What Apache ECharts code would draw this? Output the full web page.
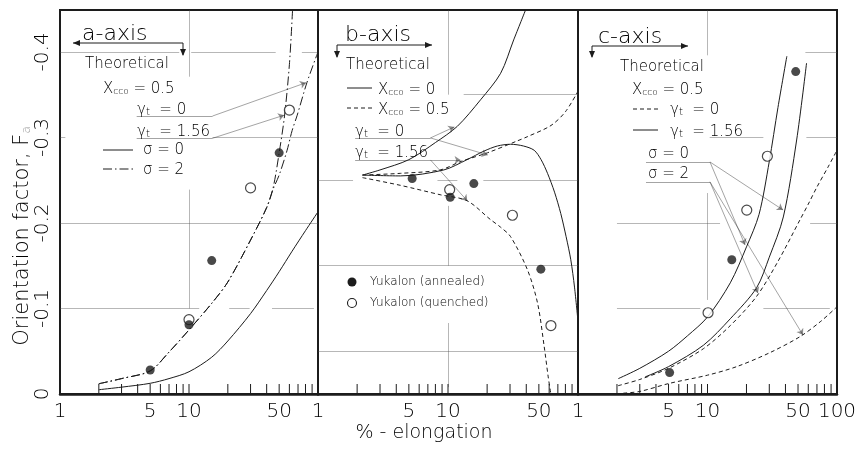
<!DOCTYPE html>
<html>
<head>
<meta charset="utf-8">
<script src="https://cdn.jsdelivr.net/npm/echarts@6/dist/echarts.min.js"></script>
<style>
html,body{margin:0;padding:0;background:#fff}
#chart{width:866px;height:449px}
</style>
</head>
<body>
<div id="chart"></div>
<script>
// ---- axis values ----------------------------------------------------------
const labelsA = [1, 5, 10, 50];
const labelsB = [1, 5, 10, 50];
const labelsC = [1, 5, 10, 50, 100];
const smallTicks = [2, 3, 4, 5, 6, 7, 8, 9, 10, 20, 30, 40, 50, 60, 70, 80, 90];
const yTicks = [0, -0.1, -0.2, -0.3, -0.4];

// ---- a-axis panel: theory (Xcco = 0.5) and Yukalon measurements ----------
const aSigma0 = [[2,-0.005],[3,-0.008],[5,-0.0125],[7,-0.018],[10,-0.026],[15,-0.043],[20,-0.062],[30,-0.094],[40,-0.121],[50,-0.143],[63,-0.167],[80,-0.191],[100,-0.213]];
const aSigma2Gamma156 = [[2,-0.012],[3,-0.018],[5,-0.027],[7,-0.049],[10,-0.075],[15,-0.106],[20,-0.131],[30,-0.18],[40,-0.218],[45,-0.242],[50,-0.282],[55,-0.325],[60,-0.385],[63.5,-0.449]];
const aSigma2Gamma0 = [[2,-0.012],[3,-0.018],[5,-0.027],[7,-0.049],[10,-0.075],[15,-0.106],[20,-0.131],[30,-0.18],[40,-0.218],[45,-0.24],[50,-0.256],[57.6,-0.285],[63,-0.308],[69,-0.326],[82,-0.364],[100,-0.40]];
const aAnnealed = [[5,-0.028],[10,-0.081],[15,-0.156],[50,-0.282]];
const aQuenched = [[10,-0.087],[30,-0.241],[60,-0.332]];

// ---- b-axis panel ----------------------------------------------------------
const bX0Gamma0 = [[2.2,-0.256],[3,-0.262],[5,-0.274],[8,-0.294],[11.8,-0.313],[17.8,-0.344],[25.4,-0.375],[32,-0.414],[39.5,-0.449]];
const bX05Gamma0 = [[2.2,-0.256],[4.3,-0.258],[8.7,-0.262],[12.6,-0.272],[20.1,-0.282],[34.2,-0.296],[41,-0.301],[62,-0.314],[80,-0.33],[100,-0.354]];
const bX0Gamma156 = [[2.2,-0.256],[4.3,-0.255],[9.3,-0.262],[14,-0.274],[18.9,-0.284],[24,-0.29],[30.3,-0.292],[38,-0.29],[46,-0.285],[52,-0.274],[58.3,-0.258],[66,-0.236],[73.7,-0.211],[81,-0.184],[88,-0.157],[94,-0.125],[100,-0.085]];
const bX05Gamma156 = [[2.2,-0.253],[4.3,-0.244],[8.7,-0.233],[14,-0.226],[21.2,-0.204],[25.4,-0.195],[30.3,-0.184],[40.9,-0.145],[48.9,-0.106],[55,-0.055],[59,-0.02],[61.8,0]];
const bAnnealed = [[5.3,-0.252],[10.4,-0.230],[15.8,-0.246],[51.8,-0.146]];
const bQuenched = [[10.3,-0.239],[31.3,-0.209],[61.9,-0.080]];

// ---- c-axis panel ----------------------------------------------------------
const cSolidLeft = [[2.05,-0.018],[3,-0.03],[5,-0.05],[7,-0.068],[10,-0.09],[15,-0.13],[20,-0.172],[25,-0.21],[30,-0.272],[35,-0.335],[41,-0.395]];
const cSolidRight = [[3.3,-0.02],[5,-0.032],[9.3,-0.057],[15,-0.088],[23.9,-0.124],[30,-0.16],[38.5,-0.207],[48.8,-0.297],[58.2,-0.387]];
const cDashedUpper = [[2.04,-0.0097],[3,-0.017],[5,-0.03],[9.3,-0.053],[15,-0.08],[23.9,-0.114],[35,-0.155],[51.7,-0.2035],[60,-0.222],[70,-0.242],[85,-0.265],[100,-0.285]];
const cDashedLower = [[2.24,-0.001],[3,-0.003],[5.1,-0.0125],[10,-0.022],[16.8,-0.032],[30,-0.048],[51.7,-0.067],[75,-0.085],[100,-0.102]];
const cAnnealed = [[5.1,-0.025],[15.4,-0.157],[48,-0.377]];
const cQuenched = [[10.1,-0.095],[20.1,-0.215],[29,-0.278]];

// ---- ruled grid segments (broken where lettering sits) --------------------
const ruleA = [[[1,-0.4],[8.4,-0.4]],[[10.4,-0.4],[47,-0.4]],[[75,-0.4],[100,-0.4]],[[1,-0.3],[1.1,-0.3]],[[15.2,-0.3],[100,-0.3]],[[1,-0.2],[100,-0.2]],[[1,-0.1],[12,-0.1]],[[20.5,-0.1],[29.5,-0.1]],[[44,-0.1],[93,-0.1]],[[10,-0.449],[10,-0.371]],[[10,-0.239],[10,-0.1]]];
const ruleB = [[[13.2,-0.35],[100,-0.35]],[[1,-0.25],[1.86,-0.25]],[[8.3,-0.25],[11.8,-0.25]],[[18.7,-0.25],[100,-0.25]],[[1,-0.15],[100,-0.15]],[[1,-0.05],[100,-0.05]],[[10,-0.449],[10,-0.35]],[[10,-0.22],[10,-0.15]],[[10,-0.083],[10,-0.008]]];
const ruleC = [[[57,-0.4],[100,-0.4]],[[10.4,-0.3],[27,-0.3]],[[58,-0.3],[100,-0.3]],[[2,-0.2],[12.5,-0.2]],[[62,-0.2],[100,-0.2]],[[2,-0.1],[8.8,-0.1]],[[27,-0.1],[88,-0.1]],[[10,-0.449],[10,-0.396]],[[10,-0.235],[10,-0.11]]];

// ---- pointer lines from the key labels to the curves ----------------------
const underA = [[[3.93,-0.325],[15.2,-0.325]],[[3.93,-0.299],[15.2,-0.299]]];
const arrowsA = [[[15.2,-0.325],[80.8,-0.364]],[[15.2,-0.299],[54.6,-0.326]]];
const underB = [[[1.93,-0.2994],[7.33,-0.2994]]];
const arrowsB = [[[7.33,-0.2994],[11.2,-0.3123]],[[7.33,-0.2994],[20.2,-0.2795]],[[1.93,-0.2737],[12.5,-0.2737]],[[7.33,-0.2737],[14.1,-0.2257]]];
const underC = [[[3.35,-0.2713],[10.45,-0.2713]],[[3.35,-0.248],[10.45,-0.248]]];
const arrowsC = [[[10.45,-0.2713],[38.3,-0.2152]],[[10.45,-0.2713],[19.5,-0.1743]],[[10.45,-0.248],[24.5,-0.118]],[[10.45,-0.248],[54.6,-0.069]]];

// ---------------------------------------------------------------------------
const FONT = 'DejaVu Sans';
const WEIGHT = 300;
const INK = '#1c1c1c';
const LETTER = '#000';
const DASH = [4, 3];
const DASHDOT = [9, 3, 1.5, 3];

function curve(data, gi, dash) {
  return {
    type: 'line', xAxisIndex: gi, yAxisIndex: gi, data: data, clip: true,
    showSymbol: false, smooth: 0.3, silent: true, z: 3,
    lineStyle: { color: INK, width: 1, type: dash || 'solid' }
  };
}
function dots(data, gi, filled) {
  return {
    type: 'scatter', xAxisIndex: gi, yAxisIndex: gi, data: data, silent: true,
    symbol: 'circle', symbolSize: filled ? 9 : 10, z: filled ? 6 : 5,
    itemStyle: filled ? { color: INK } : { color: '#fff', borderColor: INK, borderWidth: 1.2 }
  };
}
function segments(list, gi, style, arrow) {
  return {
    type: 'lines', coordinateSystem: 'cartesian2d', xAxisIndex: gi, yAxisIndex: gi,
    polyline: false, silent: true, z: arrow ? 4 : 2,
    symbol: arrow ? ['none', 'arrow'] : ['none', 'none'], symbolSize: 6,
    lineStyle: style,
    data: list.map(c => ({ coords: c }))
  };
}
function ticks(gi) {
  return {
    type: 'custom', xAxisIndex: gi, yAxisIndex: gi, silent: true, clip: false, z: 4,
    data: smallTicks.map(v => [v, 0]),
    renderItem: (p, api) => {
      const pt = api.coord([api.value(0), 0]);
      return { type: 'line', shape: { x1: pt[0], y1: pt[1], x2: pt[0], y2: pt[1] - 10 },
               style: { stroke: INK, lineWidth: 1 } };
    }
  };
}
function tickLabels(gi, values) {
  return {
    type: 'custom', xAxisIndex: gi, yAxisIndex: gi, silent: true, clip: false, z: 4,
    data: values.map(v => [v, 0]),
    renderItem: (p, api) => {
      const pt = api.coord([api.value(0), 0]);
      return { type: 'text', x: pt[0], y: pt[1] + 8,
               style: { text: String(api.value(0)), align: 'center', verticalAlign: 'top',
                        fontSize: 20, fontFamily: FONT, fontWeight: WEIGHT, fill: LETTER } };
    }
  };
}

const thin = { color: '#4a4a4a', width: 0.8, type: 'solid' };
const pointer = { color: INK, width: 0.8, type: 'solid' };

const series = [
  segments(ruleA, 0, thin), segments(ruleB, 1, thin), segments(ruleC, 2, thin),
  ticks(0), ticks(1), ticks(2),
  tickLabels(0, labelsA), tickLabels(1, labelsB), tickLabels(2, labelsC),
  curve(aSigma0, 0), curve(aSigma2Gamma156, 0, DASHDOT), curve(aSigma2Gamma0, 0, DASHDOT),
  curve(bX0Gamma0, 1), curve(bX05Gamma0, 1, DASH), curve(bX0Gamma156, 1), curve(bX05Gamma156, 1, DASH),
  curve(cSolidLeft, 2), curve(cSolidRight, 2), curve(cDashedUpper, 2, DASH), curve(cDashedLower, 2, DASH),
  segments(underA, 0, pointer), segments(arrowsA, 0, pointer, true),
  segments(underB, 1, pointer), segments(arrowsB, 1, pointer, true),
  segments(underC, 2, pointer), segments(arrowsC, 2, pointer, true),
  dots(aQuenched, 0, false), dots(aAnnealed, 0, true),
  dots(bQuenched, 1, false), dots(bAnnealed, 1, true),
  dots(cQuenched, 2, false), dots(cAnnealed, 2, true)
];

// ---- lettering ------------------------------------------------------------
const tok = (size) => ({ fontSize: size, fontFamily: FONT, fontWeight: WEIGHT, fill: LETTER, color: LETTER, verticalAlign: 'bottom', lineHeight: 19 });
const RICH = { m: tok(15), s: Object.assign(tok(10), { lineHeight: 12 }), k: Object.assign(tok(9), { lineHeight: 16 }) };
function txt(x, y, text, size, extra) {
  return { type: 'text', x: x, y: y, silent: true, z: 10,
           style: Object.assign({ text: text, fontSize: size, fontFamily: FONT, fontWeight: WEIGHT, fill: LETTER, align: 'left', verticalAlign: 'middle' }, extra || {}) };
}
function rich(x, y, text) {
  return txt(x, y, text, 15, { rich: RICH });
}
function poly(points, dash) {
  return { type: 'polyline', silent: true, z: 10, shape: { points: points },
           style: { stroke: INK, lineWidth: 1, lineDash: dash || null, fill: null } };
}
function head(x, y, dir) {
  const p = dir === 'left' ? [[x, y], [x + 7, y - 3], [x + 7, y + 3]]
          : dir === 'right' ? [[x, y], [x - 7, y - 3], [x - 7, y + 3]]
          : [[x, y], [x - 3, y - 7], [x + 3, y - 7]];
  return { type: 'polygon', silent: true, z: 10, shape: { points: p }, style: { fill: INK } };
}
const xcco = '{m|X}{k|cco}';
const gam = '{m|γ}{s|t}';

const graphics = [
  // axis titles
  { type: 'text', x: 20, y: 236, rotation: Math.PI / 2, silent: true,
    style: { text: '{t|Orientation factor, F}{u|a}', align: 'center', verticalAlign: 'middle',
             rich: { t: { fontSize: 21, fontFamily: FONT, fontWeight: WEIGHT, fill: LETTER, verticalAlign: 'bottom', lineHeight: 26 },
                     u: { fontSize: 12, fontFamily: FONT, fontWeight: WEIGHT, fill: '#999', verticalAlign: 'bottom', lineHeight: 16 } } } },
  txt(424, 433, '% - elongation', 19, { align: 'center' }),

  // a-axis key
  txt(82, 34, 'a-axis', 22),
  poly([[183, 55], [183, 43], [73, 43]]), head(73, 43, 'left'), head(183, 56, 'down'),
  txt(85, 64, 'Theoretical', 15),
  rich(103, 87, xcco + '{m| = 0.5}'),
  rich(137, 108, gam + '{m|  = 0}'),
  rich(137, 130, gam + '{m|  = 1.56}'),
  poly([[103, 150], [133, 150]]), txt(143, 150, 'σ = 0', 15),
  poly([[103, 169], [133, 169]], DASHDOT), txt(143, 170, 'σ = 2', 15),

  // b-axis key
  txt(345, 35, 'b-axis', 22),
  poly([[337, 57], [337, 45], [432, 45]]), head(337, 58, 'down'), head(432, 45, 'right'),
  txt(346, 65, 'Theoretical', 15),
  poly([[347, 88], [372, 88]]), rich(378, 88, xcco + '{m| = 0}'),
  poly([[347, 108], [372, 108]], DASH), rich(378, 108, xcco + '{m| = 0.5}'),
  rich(355, 130, gam + '{m|  = 0}'),
  rich(355, 151, gam + '{m|  = 1.56}'),
  { type: 'circle', silent: true, z: 10, shape: { cx: 352, cy: 282, r: 4.5 }, style: { fill: INK } },
  { type: 'circle', silent: true, z: 10, shape: { cx: 352, cy: 303, r: 4.5 }, style: { fill: '#fff', stroke: INK, lineWidth: 1.1 } },
  txt(370, 282, 'Yukalon (annealed)', 12),
  txt(370, 303, 'Yukalon (quenched)', 12),

  // c-axis key
  txt(598, 37, 'c-axis', 22),
  poly([[592, 57], [592, 46], [688, 46]]), head(592, 58, 'down'), head(688, 46, 'right'),
  txt(620, 67, 'Theoretical', 15),
  rich(632, 88, xcco + '{m| = 0.5}'),
  poly([[633, 109], [658, 109]], DASH), rich(670, 108, gam + '{m|  = 0}'),
  poly([[633, 130], [658, 130]]), rich(670, 130, gam + '{m|  = 1.56}'),
  txt(648, 154, 'σ = 0', 15),
  txt(648, 174, 'σ = 2', 15)
];

// ---- three side-by-side panels ---------------------------------------------
const frames = [[60, 258], [318, 260], [578, 259]];
const chart = echarts.init(document.getElementById('chart'), null, { renderer: 'canvas' });
chart.setOption({
  backgroundColor: '#fff',
  animation: false,
  grid: frames.map(f => ({ left: f[0], width: f[1], top: 10, height: 384, show: true,
                           borderColor: INK, borderWidth: 2, backgroundColor: 'transparent' })),
  xAxis: [0, 1, 2].map(i => ({
    type: 'log', logBase: 10, gridIndex: i, min: 1, max: 100,
    axisLine: { show: true, onZero: false, lineStyle: { color: INK, width: 2.5 } },
    axisTick: { show: false }, axisLabel: { show: false },
    splitLine: { show: false }, minorTick: { show: false }, minorSplitLine: { show: false }
  })),
  yAxis: [0, 1, 2].map(i => ({
    type: 'value', gridIndex: i, min: -0.449, max: 0, inverse: true, show: i === 0,
    axisLine: { show: false }, axisTick: { show: false }, splitLine: { show: false },
    axisLabel: {
      customValues: yTicks, rotate: 90, margin: 7, fontSize: 20, fontFamily: FONT, fontWeight: WEIGHT, color: LETTER,
      formatter: v => (v === 0 ? '0' : v.toFixed(1))
    }
  })),
  series: series,
  graphic: graphics
});
</script>
</body>
</html>
